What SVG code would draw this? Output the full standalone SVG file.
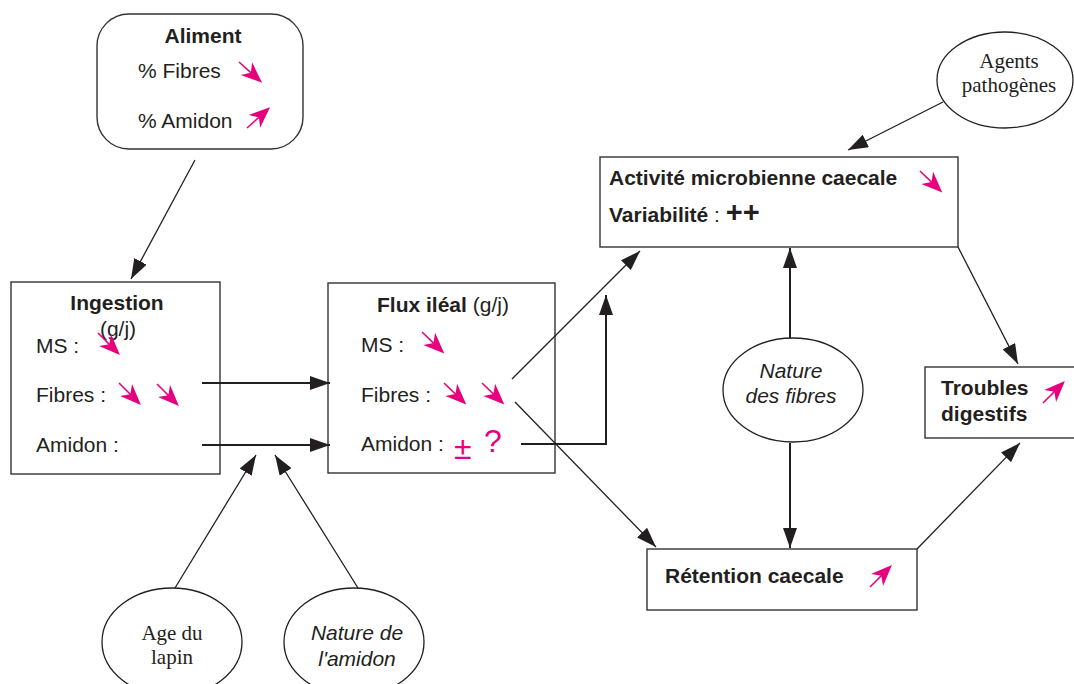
<svg xmlns="http://www.w3.org/2000/svg" xmlns:xlink="http://www.w3.org/1999/xlink" width="1074" height="684" viewBox="0 0 1074 684">
<style>
.box{fill:#fff;stroke:#333;stroke-width:1.4}
.t{font-family:"Liberation Sans",Arial,sans-serif;font-size:21px;fill:#231f20}
.b{font-weight:bold}
.i{font-style:italic}
.s{font-family:"Liberation Serif","Times New Roman",serif;font-size:21px;fill:#231f20}
.pk{font-family:"Liberation Sans",Arial,sans-serif;font-size:32px;fill:#e6007e}
.c{fill:none;stroke:#231f20;stroke-width:1.3}
.c2{fill:none;stroke:#231f20;stroke-width:2}
</style>
<defs>
<marker id="ah" viewBox="0 0 20 14" refX="20" refY="7" markerWidth="20" markerHeight="14" markerUnits="userSpaceOnUse" orient="auto"><path d="M0,0 L20,7 L0,14 z" fill="#231f20"/></marker>
<g id="pa"><path d="M0,0 L20,0" stroke="#e6007e" stroke-width="1.5" fill="none"/><path d="M31,0 L10,-8.5 L16,0 L10,8.5 Z" fill="#e6007e"/></g>
</defs>
<rect width="1074" height="684" fill="#fff"/>

<g id="aliment">
<rect class="box" x="97" y="14" width="206" height="135" rx="32"/>
<text class="t b" x="203" y="43" text-anchor="middle">Aliment</text>
<text class="t" x="138" y="78">% Fibres</text>
<text class="t" x="138" y="128">% Amidon</text>
<use xlink:href="#pa" transform="translate(239,62) rotate(42)"/>
<use xlink:href="#pa" transform="translate(247,128) rotate(-42)"/>
</g>

<g id="ingestion">
<rect class="box" x="11" y="282" width="209" height="192"/>
<text class="t b" x="117" y="310" text-anchor="middle">Ingestion</text>
<text class="t" x="118" y="336" text-anchor="middle">(g/j)</text>
<text class="t" x="36" y="353">MS :</text>
<text class="t" x="36" y="402">Fibres :</text>
<text class="t" x="36" y="452">Amidon :</text>
<use xlink:href="#pa" transform="translate(98,333) rotate(45)"/>
<use xlink:href="#pa" transform="translate(119,383) rotate(45)"/>
<use xlink:href="#pa" transform="translate(157,384) rotate(45)"/>
</g>

<g id="flux">
<rect class="box" x="328" y="283" width="227" height="190"/>
<text class="t" x="377" y="312"><tspan class="b">Flux iléal</tspan> (g/j)</text>
<text class="t" x="361" y="352">MS :</text>
<text class="t" x="361" y="402">Fibres :</text>
<text class="t" x="361" y="451">Amidon :</text>
<text class="pk" x="454" y="459" font-size="36">±</text>
<text class="pk" x="484" y="452">?</text>
<use xlink:href="#pa" transform="translate(422,332) rotate(44)"/>
<use xlink:href="#pa" transform="translate(444,383) rotate(44)"/>
<use xlink:href="#pa" transform="translate(482,383) rotate(44)"/>
</g>

<g id="activite">
<rect class="box" x="600" y="157" width="358" height="90"/>
<text class="t b" x="609" y="185" font-size="20">Activité microbienne caecale</text>
<text class="t" x="609" y="222" font-size="20"><tspan class="b">Variabilité</tspan> : <tspan class="b" font-size="29">++</tspan></text>
<use xlink:href="#pa" transform="translate(920,171) rotate(44)"/>
</g>

<g id="agents">
<ellipse cx="1005" cy="80" rx="68" ry="48" fill="#fff" stroke="#231f20" stroke-width="1.3"/>
<text class="s" x="1009" y="68" text-anchor="middle">Agents</text>
<text class="s" x="1009" y="92" text-anchor="middle">pathogènes</text>
</g>

<g id="nature-fibres">
<ellipse cx="793" cy="390" rx="70" ry="52" fill="#fff" stroke="#231f20" stroke-width="1.3"/>
<text class="t i" x="791" y="378" text-anchor="middle">Nature</text>
<text class="t i" x="791" y="403" text-anchor="middle">des fibres</text>
</g>

<g id="troubles">
<rect class="box" x="925" y="367" width="152" height="71"/>
<text class="t b" x="941" y="395">Troubles</text>
<text class="t b" x="941" y="421">digestifs</text>
<use xlink:href="#pa" transform="translate(1043,403) rotate(-45)"/>
</g>

<g id="retention">
<rect class="box" x="647" y="549" width="270" height="61"/>
<text class="t b" x="665" y="583" font-size="20">Rétention caecale</text>
<use xlink:href="#pa" transform="translate(870,587) rotate(-45)"/>
</g>

<g id="age">
<ellipse cx="172" cy="642" rx="70" ry="54" fill="#fff" stroke="#231f20" stroke-width="1.3"/>
<text class="s" x="172" y="640" text-anchor="middle">Age du</text>
<text class="s" x="172" y="664" text-anchor="middle">lapin</text>
</g>

<g id="nature-amidon">
<ellipse cx="354" cy="642" rx="70" ry="54" fill="#fff" stroke="#231f20" stroke-width="1.3"/>
<text class="t i" x="357" y="640" text-anchor="middle">Nature de</text>
<text class="t i" x="357" y="666" text-anchor="middle">l'amidon</text>
</g>

<g id="connectors">
<path class="c" d="M195,160 L131,279" marker-end="url(#ah)"/>
<path class="c2" d="M202,383 L330,383" marker-end="url(#ah)"/>
<path class="c2" d="M202,445 L330,445" marker-end="url(#ah)"/>
<path class="c" d="M175,588 L256,455" marker-end="url(#ah)"/>
<path class="c" d="M358,588 L275,455" marker-end="url(#ah)"/>
<path class="c" d="M512,379 L640,251" marker-end="url(#ah)"/>
<path class="c" d="M515,402 L656,547" marker-end="url(#ah)"/>
<path class="c2" d="M521,444 L606,444 L606,295" marker-end="url(#ah)"/>
<path class="c" d="M943,102 L848,150" marker-end="url(#ah)"/>
<path class="c2" d="M790,338 L790,248" marker-end="url(#ah)"/>
<path class="c2" d="M790,443 L790,548" marker-end="url(#ah)"/>
<path class="c" d="M958,247 L1018,364" marker-end="url(#ah)"/>
<path class="c" d="M917,549 L1020,443" marker-end="url(#ah)"/>
</g>
</svg>
